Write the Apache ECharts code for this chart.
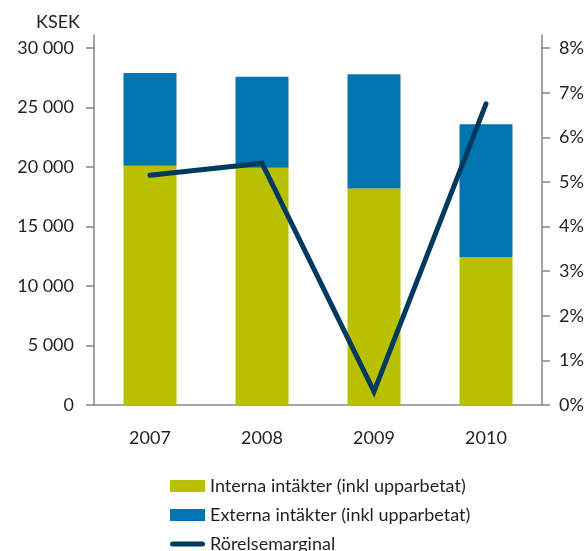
<!DOCTYPE html>
<html>
<head>
<meta charset="utf-8">
<script src="https://cdn.jsdelivr.net/npm/echarts@6/dist/echarts.min.js"></script>
<style>
  html, body { margin: 0; padding: 0; background: #fff; }
  #chart { width: 587px; height: 551px; }
</style>
</head>
<body>
<div id="chart"></div>
<script>
// kategorier och värden
const years = ['2007', '2008', '2009', '2010'];
const interna = [20100, 19950, 18200, 12450];
const externa = [7800, 7650, 9600, 11150];
const marginal = [5.15, 5.42, 0.3, 6.75];

const leftTicks = [0, 5000, 10000, 15000, 20000, 25000, 30000];
const rightTicks = [0, 1, 2, 3, 4, 5, 6, 7, 8];

const axisColor = '#8c8279';
const textColor = '#231f20';
const lineColor = '#003a5f';
const fontFamily = 'Lato, "Noto Sans", sans-serif';

// legendikon för linjen: avrundad stapel, med osynliga punkter för höjden
const lineIcon = 'path://M0,0L0,0M0,12L0,12M2.5,3.5h30a2.5,2.5 0 0 1 0,5h-30a2.5,2.5 0 0 1 0,-5z';

const chart = echarts.init(document.getElementById('chart'));

// tusentalsavgränsare med mellanslag
const fmtThousands = (v) => String(v).replace(/\B(?=(\d{3})+(?!\d))/g, ' ');

chart.setOption({
    animation: false,
    textStyle: { fontFamily: fontFamily },
    title: {
        text: 'KSEK',
        left: 31,
        top: 8,
        textStyle: { fontSize: 18, fontWeight: 'normal', color: textColor, fontFamily: fontFamily }
    },
    grid: {
        left: 94,
        right: 45,
        top: 35,
        bottom: 146,
        containLabel: false,
        outerBoundsMode: 'none'
    },
    legend: {
        orient: 'vertical',
        left: 165,
        top: 472,
        height: 100,
        itemWidth: 35,
        itemHeight: 12,
        itemGap: 11,
        textStyle: { fontSize: 18, lineHeight: 17, color: textColor, fontFamily: fontFamily },
        data: [
            { name: 'Interna intäkter (inkl upparbetat)', icon: 'rect' },
            { name: 'Externa intäkter (inkl upparbetat)', icon: 'rect' },
            { name: 'Rörelsemarginal', icon: lineIcon, itemStyle: { color: lineColor } }
        ]
    },
    xAxis: {
        type: 'category',
        data: years,
        axisLine: { lineStyle: { color: axisColor, width: 1.5 } },
        axisTick: { show: false },
        axisLabel: { fontSize: 18, color: textColor, margin: 24 }
    },
    yAxis: [
        {
            type: 'value',
            min: 0,
            max: 31100,
            splitLine: { show: false },
            axisLine: { show: true, lineStyle: { color: axisColor, width: 1.5 } },
            axisTick: { show: true, length: 8, customValues: leftTicks, lineStyle: { color: axisColor, width: 1.5 } },
            axisLabel: { fontSize: 18, color: textColor, margin: 20, customValues: leftTicks, formatter: fmtThousands }
        },
        {
            type: 'value',
            min: 0,
            max: 8.293,
            position: 'right',
            splitLine: { show: false },
            axisLine: { show: true, lineStyle: { color: axisColor, width: 1.5 } },
            axisTick: { show: true, length: 8, customValues: rightTicks, lineStyle: { color: axisColor, width: 1.5 } },
            axisLabel: { fontSize: 18, color: textColor, margin: 17, customValues: rightTicks, formatter: (v) => v + '%' }
        }
    ],
    series: [
        {
            name: 'Interna intäkter (inkl upparbetat)',
            type: 'bar',
            stack: 'total',
            barWidth: 53,
            data: interna,
            itemStyle: { color: '#b9c000' }
        },
        {
            name: 'Externa intäkter (inkl upparbetat)',
            type: 'bar',
            stack: 'total',
            barWidth: 53,
            data: externa,
            itemStyle: { color: '#0075b0' }
        },
        {
            name: 'Rörelsemarginal',
            type: 'line',
            yAxisIndex: 1,
            data: marginal,
            symbol: 'none',
            z: 5,
            itemStyle: { color: lineColor },
            lineStyle: { color: lineColor, width: 5, cap: 'round', join: 'miter' }
        }
    ]
});
</script>
</body>
</html>
